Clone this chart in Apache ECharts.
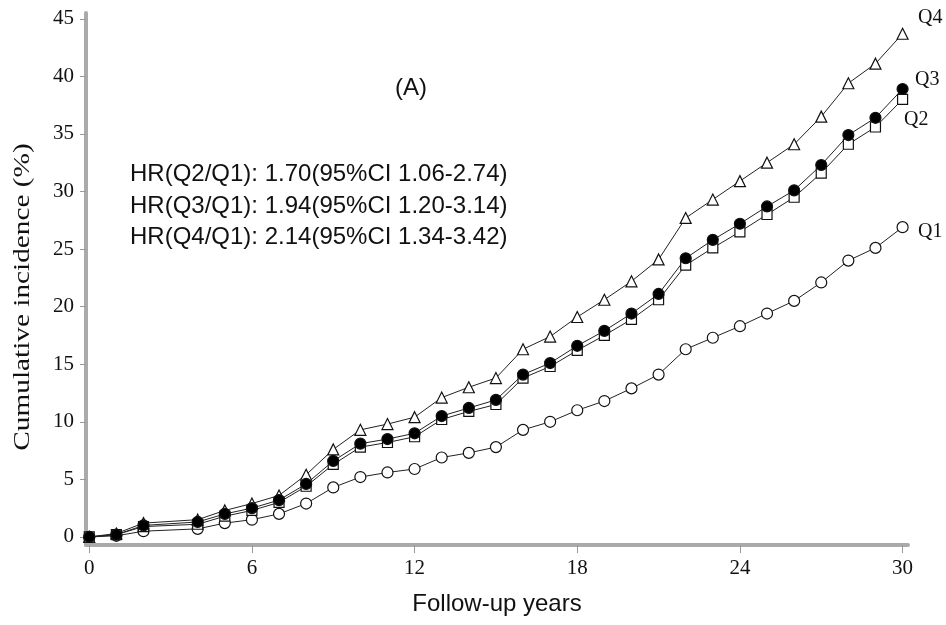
<!DOCTYPE html>
<html>
<head>
<meta charset="utf-8">
<script src="https://cdn.jsdelivr.net/npm/echarts@6/dist/echarts.min.js"></script>
<style>
  html, body { margin: 0; padding: 0; background: #fff; }
  #main { width: 946px; height: 625px; }
</style>
</head>
<body>
<div id="main"></div>
<script>
  // follow-up years (no point at year 3)
  var years = [0, 1, 2, 4, 5, 6, 7, 8, 9, 10, 11, 12, 13, 14, 15, 16, 17, 18, 19, 20, 21, 22, 23, 24, 25, 26, 27, 28, 29, 30];
  // cumulative incidence (%) by quartile
  var q1 = [0, 0.1, 0.5, 0.7, 1.2, 1.5, 2.0, 2.9, 4.3, 5.2, 5.6, 5.9, 6.9, 7.3, 7.8, 9.3, 10.0, 11.0, 11.8, 12.9, 14.1, 16.3, 17.3, 18.3, 19.4, 20.5, 22.1, 24.0, 25.1, 26.9];
  var q2 = [0, 0.2, 0.9, 1.1, 1.8, 2.3, 3.0, 4.4, 6.3, 7.8, 8.2, 8.7, 10.2, 10.9, 11.5, 13.8, 14.8, 16.2, 17.5, 18.9, 20.6, 23.6, 25.1, 26.5, 28.0, 29.5, 31.6, 34.1, 35.6, 38.0];
  var q3 = [0, 0.2, 1.0, 1.3, 2.0, 2.5, 3.2, 4.6, 6.6, 8.1, 8.5, 9.0, 10.5, 11.2, 11.9, 14.1, 15.1, 16.6, 17.9, 19.4, 21.1, 24.2, 25.8, 27.2, 28.7, 30.1, 32.3, 34.9, 36.4, 38.9];
  var q4 = [0, 0.3, 1.2, 1.5, 2.3, 2.9, 3.6, 5.4, 7.6, 9.3, 9.8, 10.4, 12.1, 13.0, 13.8, 16.3, 17.4, 19.1, 20.6, 22.2, 24.1, 27.7, 29.3, 30.9, 32.5, 34.1, 36.5, 39.4, 41.1, 43.7];
  var xTicks = [0, 6, 12, 18, 24, 30];
  var yTicks = [0, 5, 10, 15, 20, 25, 30, 35, 40, 45];
  var hrLines = [
    'HR(Q2/Q1): 1.70(95%CI 1.06-2.74)',
    'HR(Q3/Q1): 1.94(95%CI 1.20-3.14)',
    'HR(Q4/Q1): 2.14(95%CI 1.34-3.42)'
  ];

  function pairs(ys) {
    return years.map(function (x, i) { return [x, ys[i]]; });
  }

  function line(name, ys, symbol, size, fill) {
    return {
      name: name,
      type: 'line',
      data: pairs(ys),
      symbol: symbol,
      symbolSize: size,
      showAllSymbol: true,
      lineStyle: { color: '#222', width: 1 },
      itemStyle: { color: fill, borderColor: '#111', borderWidth: 1.2 },
      emphasis: { disabled: true }
    };
  }

  var serif = '"Liberation Serif", "DejaVu Serif", serif';
  var sans = '"Liberation Sans", Arial, sans-serif';

  var myChart = echarts.init(document.getElementById('main'));
  var option = {
    animation: false,
    backgroundColor: '#fff',
    grid: { left: 86, right: 38, top: 13, bottom: 80 },
    xAxis: {
      type: 'value',
      min: -0.12,
      max: 30.2,
      name: 'Follow-up years',
      nameLocation: 'middle',
      nameGap: 47,
      nameTextStyle: { fontFamily: sans, fontSize: 24, color: '#111' },
      splitLine: { show: false },
      axisLine: { show: true, onZero: false, lineStyle: { color: '#aaa', width: 4 } },
      axisTick: { show: true, customValues: xTicks, length: 8, lineStyle: { color: '#999', width: 1 } },
      axisLabel: { customValues: xTicks, margin: 13, fontFamily: serif, fontSize: 21, color: '#111' }
    },
    yAxis: {
      type: 'value',
      min: -0.7,
      max: 45.5,
      splitLine: { show: false },
      axisLine: { show: true, onZero: false, lineStyle: { color: '#aaa', width: 4 } },
      axisTick: { show: true, customValues: yTicks, length: 6, lineStyle: { color: '#999', width: 1 } },
      axisLabel: { customValues: yTicks, margin: 12, fontFamily: serif, fontSize: 21, color: '#111' }
    },
    series: [
      line('Q1', q1, 'circle', 11, '#fff'),
      line('Q2', q2, 'rect', 10, '#fff'),
      line('Q4', q4, 'triangle', 11, '#fff'),
      line('Q3', q3, 'circle', 11, '#000')
    ],
    graphic: [
      // y axis title, stretched along its length like the source
      {
        type: 'text', x: 23, y: 297, rotation: Math.PI / 2, scaleX: 1.22,
        style: { text: 'Cumulative incidence (%)', fontFamily: serif, fontSize: 24, fill: '#111', align: 'center', verticalAlign: 'middle' }
      },
      { type: 'text', left: 395, top: 76, style: { text: '(A)', fontFamily: sans, fontSize: 24, fill: '#111' } },
      { type: 'text', left: 130, top: 159, style: { text: hrLines.join('\n'), fontFamily: sans, fontSize: 24, lineHeight: 31.5, fill: '#111' } },
      { type: 'text', left: 918, top: 8, style: { text: 'Q4', fontFamily: serif, fontSize: 20, fill: '#111' } },
      { type: 'text', left: 915, top: 70, style: { text: 'Q3', fontFamily: serif, fontSize: 20, fill: '#111' } },
      { type: 'text', left: 904, top: 110, style: { text: 'Q2', fontFamily: serif, fontSize: 20, fill: '#111' } },
      { type: 'text', left: 918, top: 222, style: { text: 'Q1', fontFamily: serif, fontSize: 20, fill: '#111' } }
    ]
  };
  myChart.setOption(option);
</script>
</body>
</html>
